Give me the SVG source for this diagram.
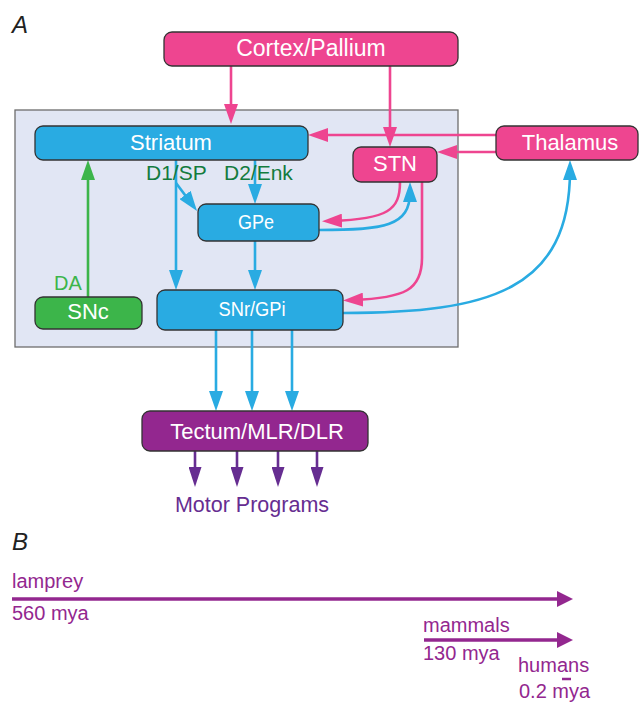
<svg xmlns="http://www.w3.org/2000/svg" width="640" height="703" viewBox="0 0 640 703">
<style>
text{font-family:"Liberation Sans",Arial,sans-serif}
.node{stroke:#333;stroke-width:1.3}
.pink{fill:#ee4590}
.blue{fill:#29abe2}
.green{fill:#3cb54a}
.purple{fill:#93278f}
.lbl{fill:#fff;font-size:22px;text-anchor:middle}
.cb{fill:none;stroke:#29abe2;stroke-width:2.6}
.cp{fill:none;stroke:#ee4590;stroke-width:2.6}
.cg{fill:none;stroke:#3cb54a;stroke-width:2.6}
.cu{fill:none;stroke:#662d91;stroke-width:2.6}
.tl{fill:none;stroke:#93278f;stroke-width:3.5}
.tt{fill:#93278f;font-size:20px}
.pan{font-size:24px;font-style:italic;fill:#222}
</style>
<defs>
<marker id="ab" markerUnits="userSpaceOnUse" markerWidth="20" markerHeight="14" refX="10" refY="7" orient="auto"><path d="M0,0L20,7L0,14z" fill="#29abe2"/></marker>
<marker id="ap" markerUnits="userSpaceOnUse" markerWidth="20" markerHeight="14" refX="10" refY="7" orient="auto"><path d="M0,0L20,7L0,14z" fill="#ee4590"/></marker>
<marker id="ag" markerUnits="userSpaceOnUse" markerWidth="20" markerHeight="14" refX="10" refY="7" orient="auto"><path d="M0,0L20,7L0,14z" fill="#3cb54a"/></marker>
<marker id="au" markerUnits="userSpaceOnUse" markerWidth="20" markerHeight="13" refX="10" refY="6.5" orient="auto"><path d="M0,0L20,6.5L0,13z" fill="#662d91"/></marker>
</defs>
<text class="pan" x="12" y="33">A</text>
<rect x="15" y="110" width="443" height="237" fill="#e1e6f4" stroke="#6d6d6d" stroke-width="1.3"/>
<g id="connectors">
<path class="cp" d="M231,66V114" marker-end="url(#ap)"/>
<path class="cp" d="M390,66V137" marker-end="url(#ap)"/>
<path class="cp" d="M496,135H318" marker-end="url(#ap)"/>
<path class="cp" d="M496,152H447" marker-end="url(#ap)"/>
<path class="cg" d="M88,297V170" marker-end="url(#ag)"/>
<path class="cb" d="M176,160V280" marker-end="url(#ab)"/>
<path class="cb" d="M176,183L191,203" marker-end="url(#ab)"/>
<path class="cb" d="M255,160V194" marker-end="url(#ab)"/>
<path class="cb" d="M255,241V280" marker-end="url(#ab)"/>
<path class="cp" d="M400,182C400,210 388,219 332,221" marker-end="url(#ap)"/>
<path class="cb" d="M319,230C385,230 410,226 410,192" marker-end="url(#ab)"/>
<path class="cp" d="M422,182V258C422,290 405,298 353,300" marker-end="url(#ap)"/>
<path class="cb" d="M343,313C490,313 570,290 570,170" marker-end="url(#ab)"/>
<path class="cb" d="M216,330V401" marker-end="url(#ab)"/>
<path class="cb" d="M252,330V401" marker-end="url(#ab)"/>
<path class="cb" d="M292,330V401" marker-end="url(#ab)"/>
<path class="cu" d="M195,451V477" marker-end="url(#au)"/>
<path class="cu" d="M237,451V477" marker-end="url(#au)"/>
<path class="cu" d="M278,451V477" marker-end="url(#au)"/>
<path class="cu" d="M317,451V477" marker-end="url(#au)"/>
</g>
<g id="cortex"><rect class="node pink" x="164" y="32" width="294" height="34" rx="8"/><text class="lbl" x="311" y="56" style="font-size:23px">Cortex/Pallium</text></g>
<g id="striatum"><rect class="node blue" x="35" y="126" width="273" height="34" rx="8"/><text class="lbl" x="171" y="150">Striatum</text></g>
<g id="thalamus"><rect class="node pink" x="496" y="126" width="142" height="34" rx="8"/><text class="lbl" x="570" y="150">Thalamus</text></g>
<g id="stn"><rect class="node pink" x="353" y="147" width="84" height="35" rx="8"/><text class="lbl" x="395" y="171">STN</text></g>
<g id="gpe"><rect class="node blue" x="198" y="204" width="121" height="37" rx="8"/><text class="lbl" x="256" y="229" style="font-size:21px" textLength="36" lengthAdjust="spacingAndGlyphs">GPe</text></g>
<g id="snr"><rect class="node blue" x="157" y="290" width="186" height="40" rx="8"/><text class="lbl" x="252" y="316" style="font-size:20px" textLength="67" lengthAdjust="spacingAndGlyphs">SNr/GPi</text></g>
<g id="snc"><rect class="node green" x="35" y="297" width="107" height="32" rx="8"/><text class="lbl" x="88" y="319">SNc</text></g>
<g id="tectum"><rect class="node purple" x="142" y="411" width="226" height="40" rx="8"/><text class="lbl" x="257" y="439">Tectum/MLR/DLR</text></g>
<g id="labels">
<text x="146" y="180" font-size="21" fill="#137b3e">D1/SP</text>
<text x="224" y="180" font-size="21" fill="#137b3e">D2/Enk</text>
<text x="54" y="290" font-size="20" fill="#3cb54a">DA</text>
<text x="252" y="512" font-size="21.5" fill="#662d91" text-anchor="middle">Motor Programs</text>
</g>
<g id="timeline">
<text class="pan" x="12" y="550">B</text>
<text class="tt" x="12" y="588">lamprey</text>
<path class="tl" d="M12,599H558"/>
<path d="M557,591L573,599L557,607z" fill="#93278f"/>
<text class="tt" x="12" y="620">560 mya</text>
<text class="tt" x="423" y="632">mammals</text>
<path class="tl" d="M424,640H558"/>
<path d="M557,632L573,640L557,648z" fill="#93278f"/>
<text class="tt" x="423" y="660">130 mya</text>
<text class="tt" x="518" y="672">humans</text>
<path d="M562,679H571" stroke="#93278f" stroke-width="2.5"/>
<text class="tt" x="519" y="698">0.2 mya</text>
</g>
</svg>
